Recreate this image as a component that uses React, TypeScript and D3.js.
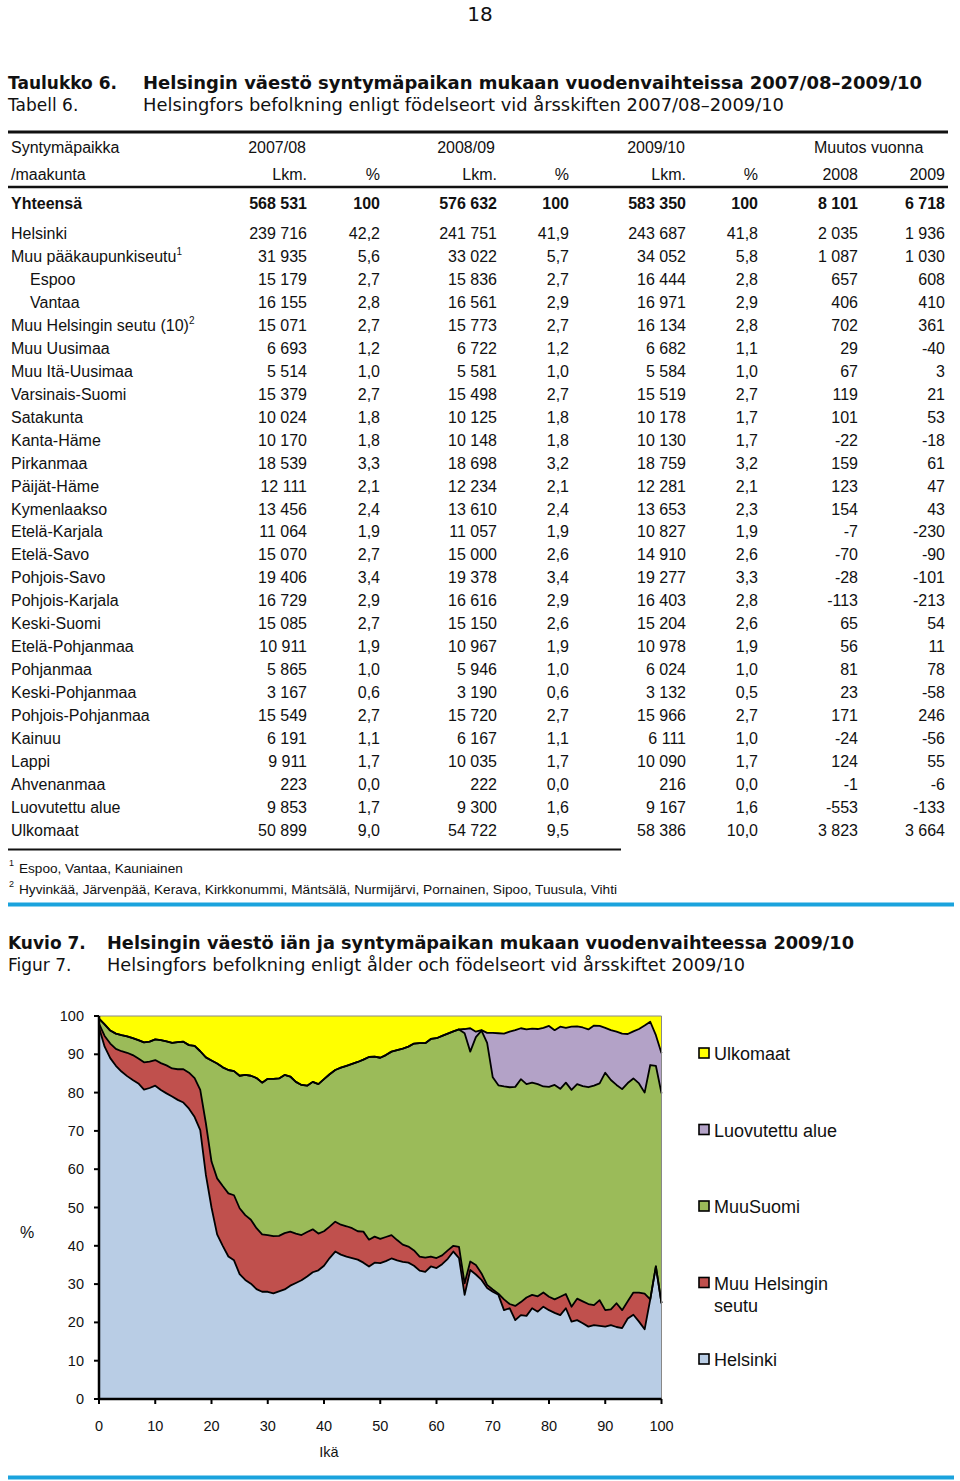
import React from "react";
import * as d3 from "d3";

// ---------- Table data ----------
const regions = ["Helsinki","Muu pääkaupunkiseutu","Espoo","Vantaa","Muu Helsingin seutu (10)","Muu Uusimaa","Muu Itä-Uusimaa","Varsinais-Suomi","Satakunta","Kanta-Häme","Pirkanmaa","Päijät-Häme","Kymenlaakso","Etelä-Karjala","Etelä-Savo","Pohjois-Savo","Pohjois-Karjala","Keski-Suomi","Etelä-Pohjanmaa","Pohjanmaa","Keski-Pohjanmaa","Pohjois-Pohjanmaa","Kainuu","Lappi","Ahvenanmaa","Luovutettu alue","Ulkomaat"];
const regionSup = ["","1","","","2","","","","","","","","","","","","","","","","","","","","","",""];
const regionIndent = [false,false,true,true,false,false,false,false,false,false,false,false,false,false,false,false,false,false,false,false,false,false,false,false,false,false,false];
const lkm2007 = ["239 716","31 935","15 179","16 155","15 071","6 693","5 514","15 379","10 024","10 170","18 539","12 111","13 456","11 064","15 070","19 406","16 729","15 085","10 911","5 865","3 167","15 549","6 191","9 911","223","9 853","50 899"];
const pct2007 = ["42,2","5,6","2,7","2,8","2,7","1,2","1,0","2,7","1,8","1,8","3,3","2,1","2,4","1,9","2,7","3,4","2,9","2,7","1,9","1,0","0,6","2,7","1,1","1,7","0,0","1,7","9,0"];
const lkm2008 = ["241 751","33 022","15 836","16 561","15 773","6 722","5 581","15 498","10 125","10 148","18 698","12 234","13 610","11 057","15 000","19 378","16 616","15 150","10 967","5 946","3 190","15 720","6 167","10 035","222","9 300","54 722"];
const pct2008 = ["41,9","5,7","2,7","2,9","2,7","1,2","1,0","2,7","1,8","1,8","3,2","2,1","2,4","1,9","2,6","3,4","2,9","2,6","1,9","1,0","0,6","2,7","1,1","1,7","0,0","1,6","9,5"];
const lkm2009 = ["243 687","34 052","16 444","16 971","16 134","6 682","5 584","15 519","10 178","10 130","18 759","12 281","13 653","10 827","14 910","19 277","16 403","15 204","10 978","6 024","3 132","15 966","6 111","10 090","216","9 167","58 386"];
const pct2009 = ["41,8","5,8","2,8","2,9","2,8","1,1","1,0","2,7","1,7","1,7","3,2","2,1","2,3","1,9","2,6","3,3","2,8","2,6","1,9","1,0","0,5","2,7","1,0","1,7","0,0","1,6","10,0"];
const change2008 = ["2 035","1 087","657","406","702","29","67","119","101","-22","159","123","154","-7","-70","-28","-113","65","56","81","23","171","-24","124","-1","-553","3 823"];
const change2009 = ["1 936","1 030","608","410","361","-40","3","21","53","-18","61","47","43","-230","-90","-101","-213","54","11","78","-58","246","-56","55","-6","-133","3 664"];
const totals = ["568 531","100","576 632","100","583 350","100","8 101","6 718"];

// ---------- Chart data (cumulative share, %, ages 0..100) ----------
const ages = d3.range(0, 101);
const helsinkiCum = [97,92,89,87,85.5,84.3,83.3,82.4,80.8,81.2,81.8,80.7,79.8,79,78.1,77.4,75.8,73.6,70.2,58.5,50,43,40,37.2,36.2,32.6,31.1,30.1,28.7,28,28,27.6,28.1,28.6,29.6,30.3,31,32,33.1,33.6,34.8,36.8,38.5,37.7,37.2,36.8,36.4,35.6,34.6,35.6,35.5,36,36.7,36.2,35.8,35.6,34.8,33.5,33.2,34.6,34.2,35.2,36.6,38.5,36.8,27.2,33.7,32.5,31.1,29,28,27.2,23.2,23.7,20.6,21.9,21.7,23.7,22.8,24.1,23.2,22.5,21.9,23.7,20.2,20.6,19.8,18.9,19.3,19.1,18.9,19.3,18.8,18.5,21,22,20.2,18.2,26,34.6,25];
const seutuCum = [98,94.8,92.8,91.4,90.8,90.4,89.8,88.9,87.9,88.1,88.5,87.7,87.1,86.3,86.1,86.1,85.2,83.8,80.7,72,62,57.6,55.6,53.7,53.2,49.8,48,46.8,44.6,43,42.8,42.5,42.6,43.3,43.7,43.2,42.8,43.6,44.3,43.2,43.8,45,46.3,45.5,45.1,44.6,43.8,43.7,41.6,42.4,41.8,42.3,42.8,41.5,40.3,39.8,38.8,37.2,36.9,37.2,36.8,37.5,38.8,40,39.7,30.2,35.9,35,32.8,29.8,28.6,27.5,26,24.8,24.3,25.3,26.5,27.2,26.8,27.8,26.7,26,26.7,27.4,24.1,26.2,25.5,24.8,24.5,25.8,23.2,23.4,25,23.2,25.5,27.8,27.8,27.5,26,34.6,25];
const muuSuomiCum = [99.3,97.8,96.2,95.4,95,94.7,94.2,93.7,93.1,93.3,93.9,93.7,93.4,93,93.2,93.3,92.4,92.2,90.8,89.2,88.4,87.6,86.6,85.9,85.6,84.4,84.6,84.4,83.8,82.6,83.6,83.6,83.7,84.6,84.2,82.8,82,81.8,82.8,82.2,83.5,84.8,85.9,86.5,87,87.5,88,88.6,89.3,89.4,89.1,89.8,90.7,91.1,91.5,92,92.8,92.9,92.9,94,94.2,94.8,95.4,96,96.5,95.5,90.7,94.5,96.2,93,84,81.9,81.6,81.4,81.5,83.5,82.2,82.6,82.2,81.6,81.5,82,81,82.6,80.7,82.2,81.7,81.4,81.8,82.4,85.2,83.3,82,80.9,82.5,83.7,82.4,80,87.2,87,79.8];
const luovutettuCum = [99.3,97.8,96.2,95.4,95,94.7,94.2,93.7,93.1,93.3,93.9,93.7,93.4,93,93.2,93.3,92.4,92.2,90.8,89.2,88.4,87.6,86.6,85.9,85.6,84.4,84.6,84.4,83.8,82.6,83.6,83.6,83.7,84.6,84.2,82.8,82,81.8,82.8,82.2,83.5,84.8,85.9,86.5,87,87.5,88,88.6,89.3,89.4,89.1,89.8,90.7,91.1,91.5,92,92.8,92.9,92.9,94,94.2,94.8,95.4,96,96.5,96.6,96.8,95.9,96.3,95.6,95.6,95.5,95.4,95.9,96.3,96.8,96.5,96.7,96.6,96.9,97.4,96.3,97.2,96.9,97.2,97.3,97,96.5,97.5,97.4,96.9,96.3,95.9,95.4,95.3,96,96.6,97.5,98.5,95,90.3];
const totalCum = ages.map(() => 100);
const zeroCum = ages.map(() => 0);

const yTicks = [0,10,20,30,40,50,60,70,80,90,100];
const xTicks = [0,10,20,30,40,50,60,70,80,90,100];

const layers = [
  { name: "Helsinki", color: "#b9cde5", lower: zeroCum, upper: helsinkiCum },
  { name: "Muu Helsingin seutu", color: "#c0504d", lower: helsinkiCum, upper: seutuCum },
  { name: "MuuSuomi", color: "#9bbb59", lower: seutuCum, upper: muuSuomiCum },
  { name: "Luovutettu alue", color: "#b3a2c7", lower: muuSuomiCum, upper: luovutettuCum },
  { name: "Ulkomaat", color: "#ffff00", lower: luovutettuCum, upper: totalCum },
];
const legendItems = [
  { lines: ["Ulkomaat"], color: "#ffff00" },
  { lines: ["Luovutettu alue"], color: "#b3a2c7" },
  { lines: ["MuuSuomi"], color: "#9bbb59" },
  { lines: ["Muu Helsingin", "seutu"], color: "#c0504d" },
  { lines: ["Helsinki"], color: "#b9cde5" },
];

const ARIAL = "'Liberation Sans', Arial, sans-serif";
const VERDANA = "'DejaVu Sans', Verdana, sans-serif";

export default function App() {
  const x = d3.scaleLinear().domain([0, 100]).range([99, 661.5]);
  const y = d3.scaleLinear().domain([0, 100]).range([1399, 1016]);

  const areaFor = (lower: number[], upper: number[]) =>
    d3.area<number>()
      .x((a) => x(a))
      .y0((a, i) => y(lower[i]))
      .y1((a, i) => y(upper[i]))(ages) || "";
  const lineFor = (vals: number[]) =>
    d3.line<number>().x((a) => x(a)).y((a, i) => y(vals[i]))(ages) || "";

  // table columns (right edges)
  const colX = [307, 380, 497, 569, 686, 758, 858, 945];
  const rowY0 = 239;
  const rowStep = 22.96;
  const cols = [lkm2007, pct2007, lkm2008, pct2008, lkm2009, pct2009, change2008, change2009];

  return (
    <div style={{ position: "absolute", left: 0, top: 0 }}>
      <svg width={960} height={1481} style={{ display: "block", background: "#fff" }}>
        <rect x={0} y={0} width={960} height={1481} fill="#fff" />
        <text x={480} y={21} textAnchor="middle" fontFamily={VERDANA} fontSize={20} fill="#111">18</text>

        {/* Table titles */}
        <g fontFamily={VERDANA} fontSize={17} fill="#111">
          <text x={8} y={89} fontWeight="bold">Taulukko 6.</text>
          <text x={143} y={89} fontWeight="bold" textLength={779} lengthAdjust="spacingAndGlyphs">Helsingin väestö syntymäpaikan mukaan vuodenvaihteissa 2007/08–2009/10</text>
          <text x={8} y={111}>Tabell 6.</text>
          <text x={143} y={111} textLength={641} lengthAdjust="spacingAndGlyphs">Helsingfors befolkning enligt födelseort vid årsskiften 2007/08–2009/10</text>
        </g>

        {/* Table rules */}
        <line x1={8} x2={948} y1={132} y2={132} stroke="#111" strokeWidth={3} />
        <line x1={8} x2={948} y1={187} y2={187} stroke="#111" strokeWidth={2.5} />
        <line x1={8} x2={621} y1={849.5} y2={849.5} stroke="#111" strokeWidth={2} />

        {/* Header */}
        <g fontFamily={ARIAL} fontSize={16} fill="#111">
          <text x={11} y={153}>Syntymäpaikka</text>
          <text x={306} y={153} textAnchor="end">2007/08</text>
          <text x={495} y={153} textAnchor="end">2008/09</text>
          <text x={685} y={153} textAnchor="end">2009/10</text>
          <text x={814} y={153}>Muutos vuonna</text>
          <text x={11} y={180}>/maakunta</text>
          {["Lkm.", "%", "Lkm.", "%", "Lkm.", "%", "2008", "2009"].map((t, i) => (
            <text key={i} x={colX[i]} y={180} textAnchor="end">{t}</text>
          ))}
        </g>

        {/* Total row */}
        <g fontFamily={ARIAL} fontSize={16} fill="#111" fontWeight="bold">
          <text x={11} y={209}>Yhteensä</text>
          {totals.map((t, i) => (
            <text key={i} x={colX[i]} y={209} textAnchor="end">{t}</text>
          ))}
        </g>

        {/* Body rows */}
        <g fontFamily={ARIAL} fontSize={16} fill="#111">
          {regions.map((r, ri) => {
            const yy = rowY0 + ri * rowStep;
            return (
              <g key={r}>
                <text x={regionIndent[ri] ? 30 : 11} y={yy}>
                  {r}
                  {regionSup[ri] ? <tspan dy={-7} fontSize={10}>{regionSup[ri]}</tspan> : null}
                </text>
                {cols.map((c, ci) => (
                  <text key={ci} x={colX[ci]} y={yy} textAnchor="end">{c[ri]}</text>
                ))}
              </g>
            );
          })}
        </g>

        {/* Footnotes */}
        <g fontFamily={ARIAL} fontSize={13.6} fill="#111">
          <text x={9} y={866} fontSize={9}>1</text>
          <text x={19} y={873}>Espoo, Vantaa, Kauniainen</text>
          <text x={9} y={887} fontSize={9}>2</text>
          <text x={19} y={894} textLength={598} lengthAdjust="spacingAndGlyphs">Hyvinkää, Järvenpää, Kerava, Kirkkonummi, Mäntsälä, Nurmijärvi, Pornainen, Sipoo, Tuusula, Vihti</text>
        </g>
        <line x1={8} x2={954} y1={904.5} y2={904.5} stroke="#1ba3dd" strokeWidth={4} />

        {/* Figure titles */}
        <g fontFamily={VERDANA} fontSize={17} fill="#111">
          <text x={8} y={949} fontWeight="bold">Kuvio 7.</text>
          <text x={107} y={949} fontWeight="bold" textLength={747} lengthAdjust="spacingAndGlyphs">Helsingin väestö iän ja syntymäpaikan mukaan vuodenvaihteessa 2009/10</text>
          <text x={8} y={971}>Figur 7.</text>
          <text x={107} y={971} textLength={638} lengthAdjust="spacingAndGlyphs">Helsingfors befolkning enligt ålder och födelseort vid årsskiftet 2009/10</text>
        </g>

        {/* Chart areas */}
        {layers.map((l) => (
          <path key={l.name} d={areaFor(l.lower, l.upper)} fill={l.color} stroke="none" />
        ))}
        {[helsinkiCum, seutuCum, muuSuomiCum, luovutettuCum].map((v, i) => (
          <path key={i} d={lineFor(v)} fill="none" stroke="#000" strokeWidth={1.8} strokeLinejoin="round" />
        ))}
        {/* plot border */}
        <line x1={x(0)} x2={x(100)} y1={y(100)} y2={y(100)} stroke="#888" strokeWidth={1} />
        <line x1={x(100)} x2={x(100)} y1={y(100)} y2={y(0)} stroke="#888" strokeWidth={1} />

        {/* Axes */}
        <line x1={x(0)} x2={x(0)} y1={y(100)} y2={y(0)} stroke="#000" strokeWidth={2.5} />
        <line x1={x(0)} x2={x(100)} y1={y(0)} y2={y(0)} stroke="#000" strokeWidth={2.5} />
        <g fontFamily={ARIAL} fontSize={14.5} fill="#111">
          {yTicks.map((t) => (
            <g key={t}>
              <line x1={x(0) - 5} x2={x(0)} y1={y(t)} y2={y(t)} stroke="#000" strokeWidth={2} />
              <text x={84} y={y(t) + 5} textAnchor="end">{t}</text>
            </g>
          ))}
          {xTicks.map((t) => (
            <g key={t}>
              <line x1={x(t)} x2={x(t)} y1={y(0)} y2={y(0) + 5} stroke="#000" strokeWidth={2} />
              <text x={x(t)} y={1431} textAnchor="middle">{t}</text>
            </g>
          ))}
          <text x={329} y={1457} textAnchor="middle">Ikä</text>
          <text x={27} y={1238} textAnchor="middle" fontSize={16}>%</text>
        </g>

        {/* Legend */}
        <g fontFamily={ARIAL} fontSize={18} fill="#111">
          {legendItems.map((it, i) => {
            const cy = 1053 + i * 76.5;
            return (
              <g key={i}>
                <rect x={699} y={cy - 5} width={10} height={10} fill={it.color} stroke="#000" strokeWidth={1.6} />
                {it.lines.map((ln, li) => (
                  <text key={li} x={714} y={cy + 7 + li * 22}>{ln}</text>
                ))}
              </g>
            );
          })}
        </g>

        <line x1={8} x2={954} y1={1477.5} y2={1477.5} stroke="#1ba3dd" strokeWidth={4} />
      </svg>
    </div>
  );
}
